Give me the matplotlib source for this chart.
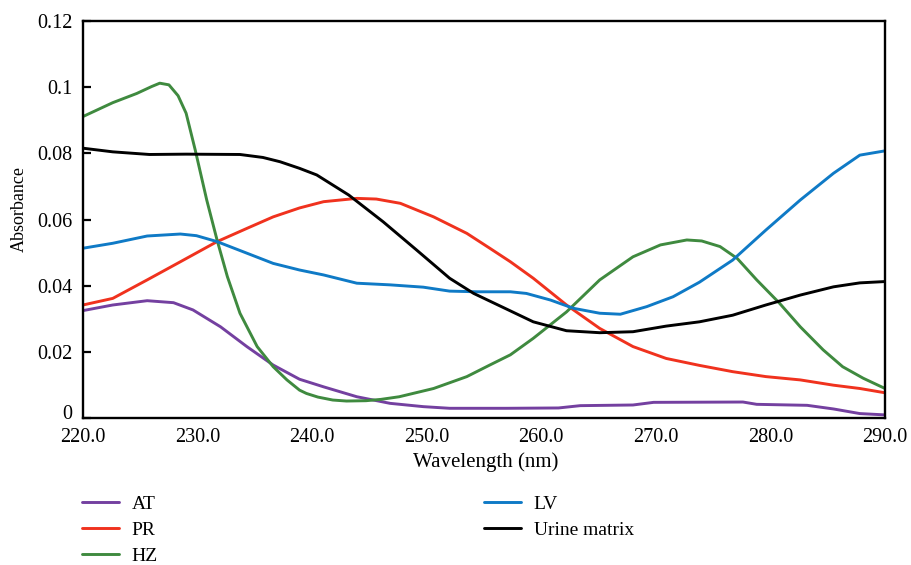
import numpy as np
import matplotlib
matplotlib.use("Agg")
import matplotlib.pyplot as plt
from matplotlib.transforms import ScaledTranslation

# UV absorbance spectra, wavelength (nm) vs absorbance
wl_at = [220, 222.6, 225.6, 227.9, 229.6, 232.0, 234.3, 236.6, 238.9, 241.0, 243.9,
         246.8, 249.7, 252.0, 257.0, 261.5, 263.4, 268.0, 269.8, 277.6, 278.8, 283.2,
         285.5, 287.8, 290]
ab_at = [0.0324, 0.0341, 0.0354, 0.0348, 0.0326, 0.0275, 0.0215, 0.0159, 0.0116, 0.0093,
         0.0063, 0.0043, 0.0033, 0.0028, 0.0028, 0.0029, 0.0036, 0.0038, 0.0046, 0.0047,
         0.0040, 0.0037, 0.0026, 0.0012, 0.0008]

wl_pr = [220, 222.6, 225.6, 228.5, 231.7, 234.3, 236.6, 238.9, 241.0, 243.9, 245.6, 247.7,
         250.6, 253.5, 255.5, 257.3, 259.3, 262.2, 265.1, 268.0, 270.9, 273.8, 276.7,
         279.6, 282.6, 285.5, 287.8, 290]
ab_pr = [0.0341, 0.0361, 0.0417, 0.0472, 0.0533, 0.0573, 0.0608, 0.0635, 0.0654, 0.0664,
         0.0662, 0.0649, 0.0608, 0.0558, 0.0513, 0.0472, 0.0422, 0.0341, 0.0270, 0.0215,
         0.0179, 0.0158, 0.0139, 0.0124, 0.0114, 0.0098, 0.0088, 0.0075]

wl_hz = [220, 222.6, 224.7, 226.0, 226.7, 227.5, 228.3, 229.0, 229.8, 230.8, 231.7, 232.6,
         233.7, 235.2, 236.6, 237.8, 238.9, 239.5, 240.5, 241.8, 243.0, 244.7, 246.0,
         247.6, 250.6, 253.5, 255.5, 257.3, 259.3, 262.2, 265.1, 268.0, 270.4, 272.7,
         274.0, 275.6, 277.1, 278.8, 280.8, 282.6, 284.6, 286.3, 288.1, 290]
ab_hz = [0.0912, 0.0954, 0.0982, 0.1003, 0.1013, 0.1008, 0.0975, 0.0922, 0.0810, 0.0659,
         0.0538, 0.0427, 0.0316, 0.0215, 0.0154, 0.0114, 0.0083, 0.0073, 0.0062, 0.0053,
         0.0050, 0.0051, 0.0055, 0.0063, 0.0088, 0.0124, 0.0159, 0.0190, 0.0240, 0.0320,
         0.0417, 0.0487, 0.0523, 0.0538, 0.0535, 0.0518, 0.0482, 0.0417, 0.0346, 0.0275,
         0.0205, 0.0154, 0.0119, 0.0088]

wl_lv = [220, 222.6, 225.6, 228.5, 229.9, 231.7, 234.3, 236.6, 238.9, 241.0, 243.9, 246.8,
         249.7, 252.0, 254.4, 257.3, 258.7, 260.8, 262.8, 265.1, 266.9, 269.2, 271.5,
         273.8, 276.7, 279.6, 282.6, 285.5, 287.8, 290]
ab_lv = [0.0513, 0.0528, 0.0550, 0.0556, 0.0551, 0.0533, 0.0498, 0.0467, 0.0447, 0.0432,
         0.0407, 0.0402, 0.0395, 0.0383, 0.0381, 0.0381, 0.0376, 0.0356, 0.0331, 0.0316,
         0.0313, 0.0336, 0.0366, 0.0410, 0.0477, 0.0568, 0.0659, 0.0740, 0.0795, 0.0808]

wl_um = [220, 222.6, 225.8, 229.0, 233.7, 235.7, 237.2, 238.9, 240.4, 243.2, 246.2, 249.1,
         252.0, 254.1, 256.4, 259.3, 262.2, 265.1, 268.0, 270.9, 273.8, 276.7, 279.6,
         282.6, 285.5, 287.8, 290]
ab_um = [0.0816, 0.0805, 0.0797, 0.0798, 0.0797, 0.0788, 0.0775, 0.0755, 0.0735, 0.0674,
         0.0593, 0.0508, 0.0422, 0.0376, 0.0338, 0.0290, 0.0263, 0.0257, 0.0260, 0.0277,
         0.0290, 0.0310, 0.0341, 0.0371, 0.0396, 0.0408, 0.0412]

series = [
    ("AT", wl_at, ab_at, "#7440a0"),
    ("PR", wl_pr, ab_pr, "#f0321e"),
    ("HZ", wl_hz, ab_hz, "#3f8a3f"),
    ("LV", wl_lv, ab_lv, "#0f7ac6"),
    ("Urine matrix", wl_um, ab_um, "#000000"),
]

plt.rcParams["font.family"] = ["Liberation Serif", "DejaVu Serif"]
plt.rcParams["font.size"] = 14.5

fig = plt.figure(figsize=(9.11, 5.65), dpi=100)
ax = fig.add_axes([0.0911, 0.261, 0.8804, 0.701])

for label, wl, ab, color in series:
    ax.plot(wl, ab, color=color, lw=2.1, label=label, solid_capstyle="round")

ax.set_xlim(220, 290)
ax.set_ylim(0, 0.12)
ax.set_xticks(np.arange(220, 291, 10))
ax.set_xticklabels([f"{v:.1f}" for v in np.arange(220, 291, 10)])
ax.set_yticks([0, 0.02, 0.04, 0.06, 0.08, 0.1, 0.12])
ax.set_yticklabels(["0", "0.02", "0.04", "0.06", "0.08", "0.1", "0.12"])
ax.tick_params(axis="x", length=0, pad=7.5)
ax.tick_params(axis="y", direction="in", length=5.5, width=1.6, pad=7.5)
for sp in ax.spines.values():
    sp.set_linewidth(1.7)

# lift the "0" label a little so it clears the x tick labels
zero_lbl = ax.get_yticklabels()[0]
zero_lbl.set_transform(zero_lbl.get_transform()
                       + ScaledTranslation(0, 4 / 72, fig.dpi_scale_trans))

ax.set_xlabel("Wavelength (nm)", fontsize=15)
ax.xaxis.set_label_coords(0.502, -0.087)
ax.set_ylabel("Absorbance", fontsize=13)
ax.yaxis.set_label_coords(-0.069, 0.527)

fig.legend(loc="upper left", bbox_to_anchor=(0.0816, 0.137), ncol=2,
           frameon=False, fontsize=14, handlelength=1.9, handletextpad=0.64,
           columnspacing=16.8, labelspacing=0.42, borderaxespad=0)

fig.savefig("out.png", dpi=100)
